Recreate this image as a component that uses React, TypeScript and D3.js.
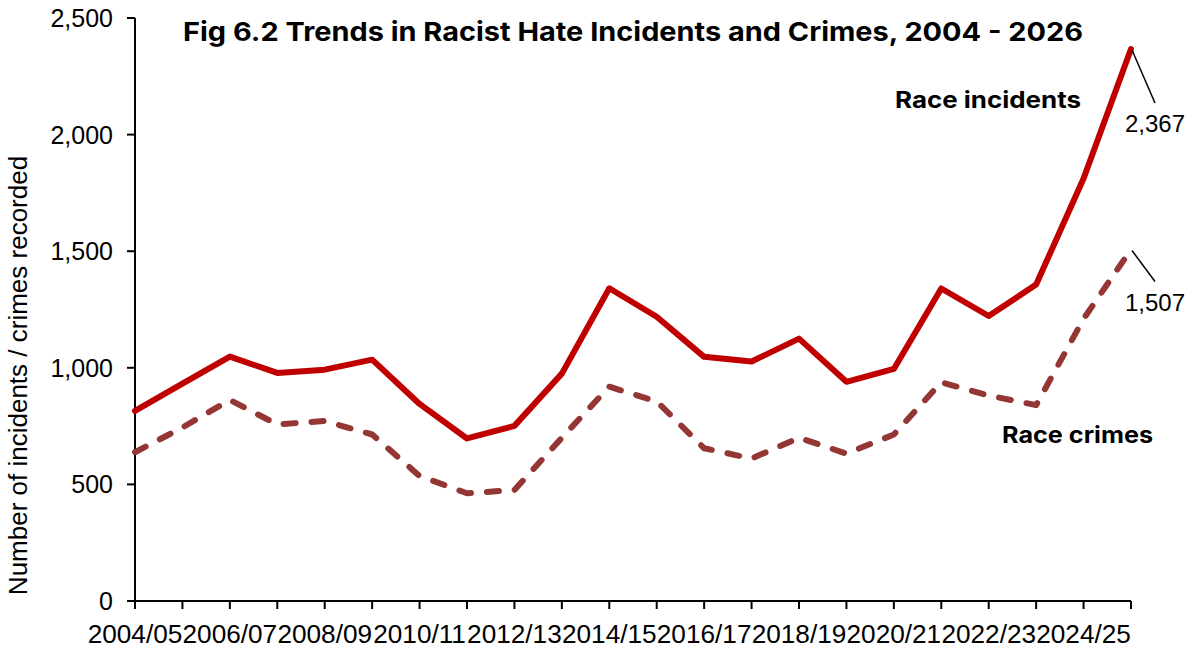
import React from "react";
import * as d3 from "d3";

const categories = [
  "2004/05", "2005/06", "2006/07", "2007/08", "2008/09", "2009/10", "2010/11", "2011/12",
  "2012/13", "2013/14", "2014/15", "2015/16", "2016/17", "2017/18", "2018/19", "2019/20",
  "2020/21", "2021/22", "2022/23", "2023/24", "2024/25", "2025/26",
];
const raceIncidents = [
  815, 932, 1048, 978, 992, 1035, 845, 697, 751, 975, 1341, 1219,
  1047, 1027, 1125, 940, 995, 1340, 1222, 1357, 1812, 2367,
];
const raceCrimes = [
  638, 744, 862, 757, 772, 714, 536, 462, 476, 700, 919, 856,
  655, 611, 700, 632, 714, 938, 881, 840, 1210, 1507,
];
const yTicks = [0, 500, 1000, 1500, 2000, 2500];
const title = "Fig 6.2 Trends in Racist Hate Incidents and Crimes, 2004 - 2026";
const yAxisTitle = "Number of incidents / crimes recorded";
const incidentsLabel = "Race incidents";
const crimesLabel = "Race crimes";

const W = 1204;
const H = 649;
const left = 135;
const right = 1131;
const top = 18;
const bottom = 601;

export default function App() {
  const x = d3.scalePoint<string>().domain(categories).range([left, right]);
  const y = d3.scaleLinear().domain([0, 2500]).range([bottom, top]);
  const fmt = d3.format(",");

  const line = d3
    .line<number>()
    .x((_, i) => x(categories[i]) as number)
    .y((d) => y(d));

  const lastCat = categories[categories.length - 1];
  const lastInc = raceIncidents[raceIncidents.length - 1];
  const lastCr = raceCrimes[raceCrimes.length - 1];
  const lx = x(lastCat) as number;

  const tickFont = "'Liberation Sans', Arial, sans-serif";
  const boldFont = "Inter, 'Noto Sans', sans-serif";

  return (
    <svg
      width={W}
      height={H}
      style={{ position: "absolute", left: 0, top: 0, background: "#fff" }}
    >
      <rect x={0} y={0} width={W} height={H} fill="#fff" />
      {/* y axis */}
      <line x1={left} x2={left} y1={top} y2={bottom} stroke="#000" strokeWidth={2} />
      {yTicks.map((t) => (
        <g key={t}>
          <line x1={left - 8} x2={left} y1={y(t)} y2={y(t)} stroke="#000" strokeWidth={2} />
          <text
            x={113}
            y={y(t)}
            dy="0.36em"
            textAnchor="end"
            fontFamily={tickFont}
            fontSize={25}
            fill="#000"
          >
            {fmt(t)}
          </text>
        </g>
      ))}
      {/* x axis */}
      <line x1={left} x2={right} y1={bottom} y2={bottom} stroke="#000" strokeWidth={2} />
      {categories.map((c, i) => (
        <g key={c}>
          <line
            x1={x(c) as number}
            x2={x(c) as number}
            y1={bottom}
            y2={bottom + 8}
            stroke="#000"
            strokeWidth={2}
          />
          {i % 2 === 0 && (
            <text
              x={x(c) as number}
              y={643}
              textAnchor="middle"
              fontFamily={tickFont}
              fontSize={26.2}
              fill="#000"
            >
              {c}
            </text>
          )}
        </g>
      ))}
      {/* y axis title */}
      <text
        transform={`translate(27, ${(top + bottom) / 2 + 66}) rotate(-90)`}
        textAnchor="middle"
        fontFamily={tickFont}
        fontSize={26}
        fill="#000"
      >
        {yAxisTitle}
      </text>
      {/* lines */}
      <path
        d={line(raceCrimes) || ""}
        fill="none"
        stroke="#943634"
        strokeWidth={6}
        strokeDasharray="12 16"
        strokeLinecap="round"
        strokeLinejoin="round"
      />
      <path
        d={line(raceIncidents) || ""}
        fill="none"
        stroke="#C00000"
        strokeWidth={6}
        strokeLinecap="round"
        strokeLinejoin="round"
      />
      {/* end labels */}
      <line x1={lx + 1} y1={y(lastInc) + 1} x2={lx + 24} y2={y(lastInc) + 54} stroke="#000" strokeWidth={1.5} />
      <text x={1155} y={132} textAnchor="middle" fontFamily={tickFont} fontSize={24} fill="#000">
        {fmt(lastInc)}
      </text>
      <line x1={lx + 1} y1={y(lastCr) + 1} x2={lx + 24} y2={y(lastCr) + 32} stroke="#000" strokeWidth={1.5} />
      <text x={1155} y={311} textAnchor="middle" fontFamily={tickFont} fontSize={24} fill="#000">
        {fmt(lastCr)}
      </text>
      {/* series labels */}
      <text x={895} y={108} fontFamily={boldFont} fontWeight={700} fontSize={23} fill="#000" textLength={186} lengthAdjust="spacingAndGlyphs">
        {incidentsLabel}
      </text>
      <text x={1002} y={443} fontFamily={boldFont} fontWeight={700} fontSize={23} fill="#000" textLength={151} lengthAdjust="spacingAndGlyphs">
        {crimesLabel}
      </text>
      {/* title */}
      <text
        x={183}
        y={41}
        fontFamily={boldFont}
        fontWeight={700}
        fontSize={26}
        fill="#000"
        textLength={900}
        lengthAdjust="spacingAndGlyphs"
      >
        {title}
      </text>
    </svg>
  );
}
